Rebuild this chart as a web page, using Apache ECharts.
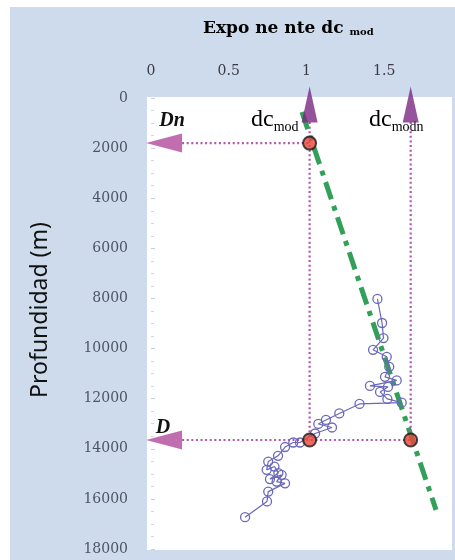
<!DOCTYPE html>
<html>
<head>
<meta charset="utf-8">
<script src="https://cdn.jsdelivr.net/npm/echarts@6/dist/echarts.min.js"></script>
<style>
html,body{margin:0;padding:0;background:#ffffff;}
#chart{width:455px;height:560px;}
</style>
</head>
<body>
<div id="chart"></div>
<script>
// ---- data ----
const xTicks = [0, 0.5, 1, 1.5, 2];
const depthTicks = [0, 2000, 4000, 6000, 8000, 10000, 12000, 14000, 16000, 18000];
// measured trace: exponent dc_mod vs depth (m)
const traceDc = [1.456, 1.486, 1.495, 1.428, 1.516, 1.532, 1.505, 1.580, 1.408, 1.524, 1.473, 1.520, 1.612, 1.341, 1.211, 1.125, 1.076, 1.164, 1.055, 0.958, 0.915, 0.862, 0.817, 0.754, 0.744, 0.794, 0.819, 0.765, 0.840, 0.808, 0.862, 0.754, 0.746, 0.605];
const traceDepth = [8020, 8980, 9580, 10050, 10330, 10730, 11130, 11270, 11490, 11530, 11730, 12010, 12160, 12210, 12590, 12850, 13010, 13150, 13390, 13750, 13750, 13930, 14280, 14510, 14840, 14710, 14970, 15210, 15040, 15310, 15380, 15710, 16100, 16730];
// normal trend line (dash-dot)
const trendDc = [0.971, 1.833];
const trendDepth = [560, 16440];
// key values
const dcMod = 1.02;
const dcModn = 1.67;
const depthDn = 1800;
const depthD = 13650;
const arrowStartDc = 0.2;      // left arrows end
const arrowDc = 0.084;         // left arrow head
const arrowDepthTop = 960;     // up arrows end
const upArrowDepth = 260;      // up arrow head

const zip = (a, b) => a.map((v, i) => [v, b[i]]);

const chart = echarts.init(document.getElementById('chart'), null, {renderer: 'canvas'});
const dotted = {color: '#b257ad', width: 2.2, type: [2, 2.6]};

const option = {
  animation: false,
  backgroundColor: '#ffffff',
  grid: {left: 151, top: 98, width: 311, height: 451, containLabel: false, outerBoundsMode: 'none'},
  xAxis: {
    type: 'value', position: 'top', min: 0, max: 2, interval: 0.5,
    axisLine: {show: false}, axisTick: {show: false}, splitLine: {show: false},
    axisLabel: {
      margin: 20, fontFamily: 'DejaVu Serif', fontSize: 14, color: '#3a3a44',
      formatter: v => (xTicks.includes(v) ? String(v) : '')
    }
  },
  yAxis: {
    type: 'value', inverse: true, min: 0, max: 18000, interval: 2000,
    axisLine: {show: false}, splitLine: {show: false},
    axisTick: {show: true, inside: true, length: 4, lineStyle: {color: '#c9cdd8'}},
    minorTick: {show: true, splitNumber: 4, length: 3, lineStyle: {color: '#d3d7e0'}},
    axisLabel: {
      margin: 23, fontFamily: 'DejaVu Serif', fontSize: 14, color: '#4d5462',
      formatter: v => (depthTicks.includes(v) ? String(v) : '')
    }
  },
  graphic: [
    {type: 'rect', z: -20, silent: true, shape: {x: 10, y: 7, width: 445, height: 553}, style: {fill: '#cddbec'}},
    {type: 'rect', z: -10, silent: true, shape: {x: 147, y: 97, width: 305, height: 453}, style: {fill: '#ffffff'}},
    {type: 'text', left: 203, top: 20, style: {
      text: '{a|Expo ne nte dc }{b|mod}',
      rich: {
        a: {fontFamily: 'DejaVu Serif', fontWeight: 'bold', fontSize: 17, color: '#1a1a1a', verticalAlign: 'bottom'},
        b: {fontFamily: 'DejaVu Serif', fontWeight: 'bold', fontSize: 10, color: '#1a1a1a', padding: [8, 0, 0, 0], verticalAlign: 'bottom'}
      }
    }},
    {type: 'text', x: 40, y: 310, rotation: Math.PI / 2, style: {
      text: 'Profundidad (m)', fontFamily: 'Noto Sans', fontSize: 23, fill: '#111111',
      align: 'center', verticalAlign: 'middle'
    }},
    {type: 'text', x: 172, y: 121, style: {text: 'Dn', fontFamily: 'Liberation Serif', fontWeight: 'bold', fontStyle: 'italic', fontSize: 20, fill: '#111', align: 'center', verticalAlign: 'middle'}},
    {type: 'text', x: 163, y: 428, style: {text: 'D', fontFamily: 'Liberation Serif', fontWeight: 'bold', fontStyle: 'italic', fontSize: 20, fill: '#111', align: 'center', verticalAlign: 'middle'}},
    {type: 'text', left: 251, top: 108, style: {
      text: '{a|dc}{b|mod}',
      rich: {a: {fontFamily: 'Liberation Serif', fontSize: 24, color: '#1a1a1a'}, b: {fontFamily: 'Liberation Serif', fontSize: 14, color: '#1a1a1a', padding: [14, 0, 0, 0]}}
    }},
    {type: 'text', left: 369, top: 108, style: {
      text: '{a|dc}{b|modn}',
      rich: {a: {fontFamily: 'Liberation Serif', fontSize: 24, color: '#1a1a1a'}, b: {fontFamily: 'Liberation Serif', fontSize: 14, color: '#1a1a1a', padding: [14, 0, 0, 0]}}
    }}
  ],
  series: [
    {type: 'line', z: 2, silent: true, symbol: 'none', clip: false,
     data: zip(trendDc, trendDepth),
     lineStyle: {color: '#33a05a', width: 5, type: [18, 7, 5, 7]}},
    {type: 'line', z: 3, silent: true, symbol: 'none', data: [[arrowStartDc, depthDn], [dcMod, depthDn]], lineStyle: dotted},
    {type: 'line', z: 3, silent: true, symbol: 'none', data: [[arrowStartDc, depthD], [dcModn, depthD]], lineStyle: dotted},
    {type: 'line', z: 3, silent: true, symbol: 'none', data: [[dcMod, arrowDepthTop], [dcMod, depthD]], lineStyle: dotted},
    {type: 'line', z: 3, silent: true, symbol: 'none', data: [[dcModn, arrowDepthTop], [dcModn, depthD]], lineStyle: dotted},
    {type: 'line', z: 4, silent: true, data: zip(traceDc, traceDepth),
     showAllSymbol: true, symbol: 'circle', symbolSize: 9,
     itemStyle: {color: 'rgba(255,255,255,0)', borderColor: '#6a68b8', borderWidth: 1.3},
     lineStyle: {color: '#6a68b8', width: 1.2}},
    {type: 'scatter', z: 5, silent: true, data: [[dcMod, depthDn], [dcMod, depthD], [dcModn, depthD]],
     symbolSize: 13, itemStyle: {color: '#e8453a', borderColor: '#1a1a1a', borderWidth: 2}},
    {type: 'scatter', z: 6, silent: true, clip: false, data: [[dcMod, upArrowDepth], [dcModn, upArrowDepth]],
     symbol: 'triangle', symbolSize: [16, 36], itemStyle: {color: '#7a2882'}},
    {type: 'scatter', z: 6, silent: true, clip: false, data: [[arrowDc, depthDn], [arrowDc, depthD]],
     symbol: 'triangle', symbolRotate: 90, symbolSize: [19, 36], itemStyle: {color: '#b24a9e'}}
  ]
};
chart.setOption(option);
</script>
</body>
</html>
